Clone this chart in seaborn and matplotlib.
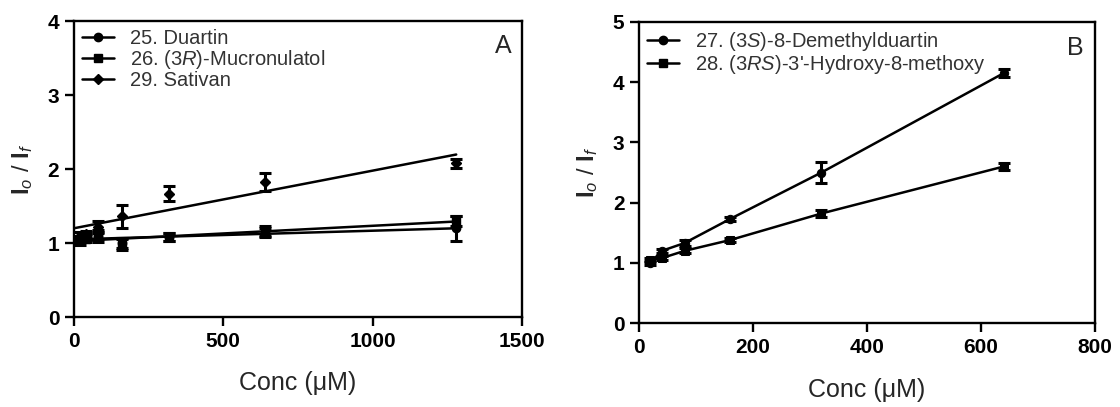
import numpy as np
import pandas as pd
import seaborn as sns
import matplotlib.pyplot as plt
from matplotlib.lines import Line2D

# ---- Panel A: quenching of compounds 25, 26, 29 (linear Stern-Volmer fits) ----
conc_a = [20, 40, 80, 160, 320, 640, 1280]
duartin = [1.05, 1.08, 1.10, 1.00, 1.08, 1.14, 1.20]
duartin_err = [0.04, 0.04, 0.05, 0.07, 0.05, 0.06, 0.17]
mucronulatol = [1.03, 1.06, 1.10, 0.98, 1.08, 1.16, 1.30]
mucronulatol_err = [0.05, 0.05, 0.08, 0.07, 0.05, 0.07, 0.07]
sativan = [1.10, 1.12, 1.22, 1.36, 1.67, 1.83, 2.08]
sativan_err = [0.05, 0.05, 0.08, 0.15, 0.10, 0.12, 0.06]

labels_a = ["25. Duartin", "26. (3$\\mathit{R}$)-Mucronulatol", "29. Sativan"]

# ---- Panel B: compounds 27, 28 ----
conc_b = [20, 40, 80, 160, 320, 640]
demethylduartin = [1.00, 1.20, 1.33, 1.73, 2.50, 4.15]
demethylduartin_err = [0.03, 0.03, 0.05, 0.03, 0.17, 0.07]
hydroxymethoxy = [1.05, 1.08, 1.20, 1.38, 1.82, 2.60]
hydroxymethoxy_err = [0.03, 0.03, 0.04, 0.03, 0.06, 0.06]

labels_b = ["27. (3$\\mathit{S}$)-8-Demethylduartin",
            "28. (3$\\mathit{RS}$)-3'-Hydroxy-8-methoxy"]

sns.set_theme(style="ticks")
plt.rcParams["font.family"] = ["Liberation Sans", "DejaVu Sans"]
plt.rcParams["mathtext.fontset"] = "custom"
plt.rcParams["mathtext.rm"] = "Liberation Sans"
plt.rcParams["mathtext.it"] = "Liberation Sans:italic"
plt.rcParams["mathtext.bf"] = "Liberation Sans:bold"

fig = plt.figure(figsize=(11.2, 4.07), dpi=100)
fig.patch.set_facecolor("white")
ax_a = fig.add_axes([0.066, 0.221, 0.400, 0.727])
ax_b = fig.add_axes([0.5705, 0.206, 0.407, 0.740])

LW = 1.8
BLACK = "black"
LEG_KW = dict(loc="upper left", frameon=False, fontsize=14.5,
              handlelength=1.6, labelspacing=0.0, borderaxespad=0.1,
              borderpad=0.3, handletextpad=0.8, labelcolor="#333333")


def style_axes(ax, xlim, xticks, ylim, yticks, tag):
    ax.set_xlim(*xlim)
    ax.set_ylim(*ylim)
    ax.set_xticks(xticks)
    ax.set_yticks(yticks)
    for s in ax.spines.values():
        s.set_linewidth(1.7)
        s.set_color(BLACK)
    ax.tick_params(direction="out", length=6.5, width=1.7, colors=BLACK,
                   labelsize=15, pad=4)
    for lab in ax.get_xticklabels() + ax.get_yticklabels():
        lab.set_fontweight("bold")
    ax.set_xlabel("Conc (\u03bcM)", fontsize=18, labelpad=15)
    ax.set_ylabel("$\\mathbf{I}_{\\mathit{o}}$ / $\\mathbf{I}_{\\mathit{f}}$",
                  fontsize=17, labelpad=9)
    ax.text(0.976, 0.955, tag, transform=ax.transAxes, ha="right", va="top",
            fontsize=18)
    ax.set_facecolor("none")


# Panel A: points with error bars and least-squares lines from x = 0
series_a = [(duartin, duartin_err, "o"),
            (mucronulatol, mucronulatol_err, "s"),
            (sativan, sativan_err, "D")]
x_a = np.array(conc_a, dtype=float)
handles_a = []
for (vals, errs, mk), lab in zip(series_a, labels_a):
    y = np.array(vals)
    slope, intercept = np.polyfit(x_a, y, 1)
    xfit = np.array([0.0, x_a.max()])
    fit_df = pd.DataFrame({"x": xfit, "y": intercept + slope * xfit})
    sns.lineplot(data=fit_df, x="x", y="y", ax=ax_a, color=BLACK, lw=LW)
    ms = 6 if mk != "D" else 5.5
    ax_a.errorbar(x_a, y, yerr=errs, fmt=mk, color=BLACK, ms=ms,
                  capsize=4.5, capthick=2.2, elinewidth=2.2)
    handles_a.append(Line2D([], [], color=BLACK, lw=LW, marker=mk, ms=ms,
                            label=lab))

style_axes(ax_a, (0, 1500), [0, 500, 1000, 1500], (0, 4), [0, 1, 2, 3, 4], "A")
ax_a.legend(handles=handles_a, **LEG_KW)

# Panel B: points joined by lines
series_b = [(demethylduartin, demethylduartin_err, "o"),
            (hydroxymethoxy, hydroxymethoxy_err, "s")]
handles_b = []
for (vals, errs, mk), lab in zip(series_b, labels_b):
    df = pd.DataFrame({"conc": conc_b, "ratio": vals})
    sns.lineplot(data=df, x="conc", y="ratio", ax=ax_b, color=BLACK, lw=LW,
                 marker=mk, markersize=6, markeredgecolor=BLACK)
    ax_b.errorbar(conc_b, vals, yerr=errs, fmt="none", ecolor=BLACK,
                  capsize=4.5, capthick=2.2, elinewidth=2.2)
    handles_b.append(Line2D([], [], color=BLACK, lw=LW, marker=mk, ms=6,
                            label=lab))

style_axes(ax_b, (0, 800), [0, 200, 400, 600, 800], (0, 5),
           [0, 1, 2, 3, 4, 5], "B")
ax_b.legend(handles=handles_b, **LEG_KW)

fig.savefig("out.png", dpi=100, facecolor="white")
